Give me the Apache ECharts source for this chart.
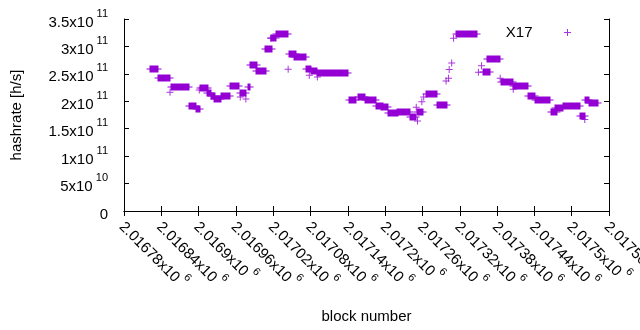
<!DOCTYPE html>
<html>
<head>
<meta charset="utf-8">
<script src="https://cdn.jsdelivr.net/npm/echarts@6/dist/echarts.min.js"></script>
<style>
  html, body { margin: 0; padding: 0; background: #fff; }
  #chart { width: 640px; height: 330px; }
</style>
</head>
<body>
<div id="chart"></div>
<script>
// runs of consecutive blocks sharing one hashrate estimate
const runStart = [2016822, 2016835, 2016856, 2016885, 2016895, 2016903, 2016913, 2016920, 2016925, 2016936,
  2016950, 2016966, 2016980, 2016983, 2016992, 2017007, 2017017, 2017025, 2017045, 2017053,
  2017073, 2017080, 2017091, 2017142, 2017156, 2017168, 2017186, 2017193, 2017205, 2017219,
  2017240, 2017251, 2017266, 2017283, 2017314, 2017357, 2017364, 2017387, 2017406, 2017430,
  2017441, 2017466, 2017473, 2017486, 2017513, 2017521, 2017528]
const runEnd = [2016835, 2016854, 2016885, 2016895, 2016902, 2016915, 2016920, 2016927, 2016936, 2016950,
  2016965, 2016976, 2016983, 2016994, 2017008, 2017018, 2017025, 2017043, 2017056, 2017072,
  2017080, 2017091, 2017140, 2017153, 2017168, 2017186, 2017197, 2017205, 2017221, 2017240,
  2017250, 2017261, 2017283, 2017299, 2017348, 2017369, 2017385, 2017406, 2017430, 2017441,
  2017465, 2017476, 2017486, 2017513, 2017521, 2017528, 2017543]
const runHash = [2.58e11, 2.42e11, 2.255e11, 1.92e11, 1.865e11, 2.24e11, 2.15e11, 2.09e11, 2.036e11, 2.09e11,
  2.273e11, 2.15e11, 2.255e11, 2.656e11, 2.547e11, 2.948e11, 3.16e11, 3.22e11, 2.868e11, 2.807e11,
  2.583e11, 2.547e11, 2.516e11, 2.03e11, 2.07e11, 2.018e11, 1.914e11, 1.89e11, 1.79e11, 1.81e11,
  1.715e11, 1.81e11, 2.14e11, 1.927e11, 3.232e11, 2.53e11, 2.765e11, 2.346e11, 2.285e11, 2.10e11,
  2.03e11, 1.81e11, 1.883e11, 1.909e11, 1.726e11, 2.018e11, 1.963e11]

// isolated blocks
const singleBlock = [2016854, 2016901, 2016967, 2016976, 2017016, 2017044, 2017078, 2017091, 2017250, 2017252,
  2017259, 2017262, 2017298, 2017302, 2017303, 2017307, 2017310, 2017350, 2017355, 2017385,
  2017406, 2017521]
const singleHash = [2.165e11, 2.205e11, 2.08e11, 2.04e11, 3.15e11, 2.583e11, 2.474e11, 2.443e11, 1.89e11, 1.64e11,
  1.99e11, 2.08e11, 2.37e11, 2.42e11, 2.58e11, 2.70e11, 3.15e11, 2.53e11, 2.65e11, 2.42e11,
  2.22e11, 1.67e11]

const xMin = 2016780
const xMax = 2017560
const xStep = 60
const yMax = 3.5e11
const yStep = 5e10

const purple = '#9400d3'
const FONT = '"Liberation Sans", Arial, sans-serif'
const plusPath = 'path://M3,0h1v3h3v1h-3v3h-1v-3h-3v-1h3z'

const runData = runStart.map((s, i) => [s, runEnd[i], runHash[i]])
const singleData = singleBlock.map((b, i) => [b, singleHash[i]])

const sci = (v) => {
  if (v === 0) return '{m|0}'
  const e = Math.floor(Math.log10(v) + 1e-9)
  const m = parseFloat((v / Math.pow(10, e)).toFixed(6))
  return '{m|' + m + 'x10}{s| ' + e + '}'
}

const rich = {
  m: { fontFamily: FONT, fontSize: 15, color: '#000', verticalAlign: 'bottom', lineHeight: 22 },
  s: { fontFamily: FONT, fontSize: 11, color: '#000', verticalAlign: 'top', lineHeight: 12 },
}

const tickCommon = { show: true, inside: true, length: 5, lineStyle: { color: '#000', width: 1 } }
const lineCommon = { show: true, lineStyle: { color: '#000', width: 1 } }

const chart = echarts.init(document.getElementById('chart'), null, { renderer: 'canvas' })
chart.setOption({
  animation: false,
  backgroundColor: '#fff',
  grid: { left: 124, right: 31, top: 19, bottom: 119, containLabel: false, outerBoundsMode: 'none' },
  legend: {
    data: [{ name: 'X17', icon: plusPath }],
    right: 64,
    top: 20,
    align: 'right',
    itemWidth: 60,
    itemHeight: 7,
    textStyle: { fontFamily: FONT, fontSize: 15, color: '#000' },
  },
  xAxis: [
    {
      type: 'value',
      min: xMin,
      max: xMax,
      interval: xStep,
      name: 'block number',
      nameLocation: 'middle',
      nameGap: 98,
      nameTextStyle: { fontFamily: FONT, fontSize: 15, color: '#000' },
      axisLine: lineCommon,
      axisTick: tickCommon,
      splitLine: { show: false },
      axisLabel: {
        rotate: -45,
        margin: 11,
        formatter: (v) => sci(v),
        rich,
      },
    },
    {
      type: 'value',
      position: 'top',
      min: xMin,
      max: xMax,
      interval: xStep,
      axisLine: lineCommon,
      axisTick: tickCommon,
      axisLabel: { show: false },
      splitLine: { show: false },
    },
  ],
  yAxis: [
    {
      type: 'value',
      min: 0,
      max: yMax,
      interval: yStep,
      name: 'hashrate [h/s]',
      nameLocation: 'middle',
      nameGap: 100,
      nameTextStyle: { fontFamily: FONT, fontSize: 15, color: '#000' },
      axisLine: lineCommon,
      axisTick: tickCommon,
      splitLine: { show: false },
      axisLabel: { margin: 16, formatter: (v) => sci(v), rich },
    },
    {
      type: 'value',
      position: 'right',
      min: 0,
      max: yMax,
      interval: yStep,
      axisLine: lineCommon,
      axisTick: tickCommon,
      axisLabel: { show: false },
      splitLine: { show: false },
    },
  ],
  series: [
    {
      name: 'runs',
      type: 'custom',
      xAxisIndex: 0,
      yAxisIndex: 0,
      data: runData,
      encode: { x: [0, 1], y: 2 },
      renderItem: (params, api) => {
        const a = api.coord([api.value(0), api.value(2)])
        const b = api.coord([api.value(1), api.value(2)])
        const x0 = Math.round(a[0])
        const x1 = Math.round(b[0])
        const y = Math.round(a[1])
        return {
          type: 'group',
          children: [
            { type: 'rect', shape: { x: x0 - 0.5, y: y - 3.5, width: x1 - x0 + 1, height: 7 }, style: { fill: purple } },
            { type: 'rect', shape: { x: x0 - 3.5, y: y - 0.5, width: x1 - x0 + 7, height: 1 }, style: { fill: purple } },
          ],
        }
      },
    },
    {
      name: 'X17',
      type: 'scatter',
      xAxisIndex: 0,
      yAxisIndex: 0,
      data: singleData,
      symbol: plusPath,
      symbolSize: 7,
      itemStyle: { color: purple },
    },
  ],
})
</script>
</body>
</html>
